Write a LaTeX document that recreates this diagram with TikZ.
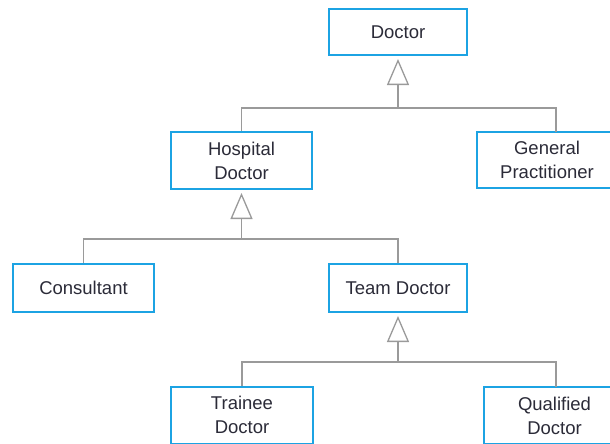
\documentclass[tikz,border=0pt]{standalone}
\usepackage{fontspec}
\setmainfont{Liberation Sans}
\usetikzlibrary{arrows.meta}
\definecolor{boxblue}{HTML}{1CA3E3}
\definecolor{linegray}{HTML}{9A9A9A}
\definecolor{txt}{HTML}{2B2B38}
\begin{document}
\begin{tikzpicture}[x=1pt,y=-1pt,
  cls/.style={draw=boxblue, line width=2pt, fill=white, text=txt, align=center,
    inner sep=0pt, font=\fontsize{18.5}{24}\selectfont},
  link/.style={draw=linegray, line width=1.6pt},
  gen/.style={draw=linegray, line width=1.6pt, shorten >=3pt,
    -{Triangle[open, width=22pt, length=26pt, line width=1.3pt]}}]
\useasboundingbox (0,0) rectangle (610,444);
\clip (0,0) rectangle (610,444);
\node[cls, minimum width=138pt, minimum height=46pt] (doc) at (398,32) {Doctor};
\node[cls, minimum width=141pt, minimum height=57pt] (hd) at (241.5,160.5) {Hospital\\Doctor};
\node[cls, minimum width=141pt, minimum height=56pt] (gp) at (547,160) {General\\Practitioner};
\node[cls, minimum width=141pt, minimum height=48pt] (con) at (83.5,288) {Consultant};
\node[cls, minimum width=138pt, minimum height=48pt] (td) at (398,288) {Team Doctor};
\node[cls, minimum width=142pt, minimum height=57pt] (tr) at (242,415) {Trainee\\Doctor};
\node[cls, minimum width=141pt, minimum height=57pt] (qd) at (554.5,415.5) {Qualified\\Doctor};
% junctions
\coordinate (j1) at (398,108);
\coordinate (j2) at (241.5,239);
\coordinate (j3) at (398,362);
\coordinate (gpin) at (556,132);
\coordinate (qdin) at (556,387);
\draw[gen] (j1) -- (doc.south);
\draw[link] (hd.north) |- (j1) -| (gpin);
\draw[gen] (j2) -- (hd.south);
\draw[link] (con.north) |- (j2) -| (td.north);
\draw[gen] (j3) -- (td.south);
\draw[link] (tr.north) |- (j3) -| (qdin);
\end{tikzpicture}
\end{document}
